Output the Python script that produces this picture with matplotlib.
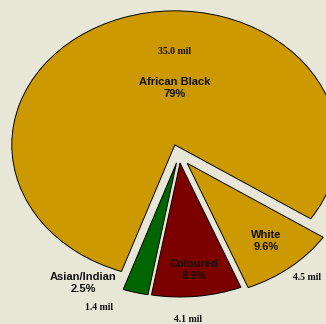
import matplotlib.pyplot as plt

groups = ["African Black", "Asian/Indian", "Coloured", "White"]
shares = [79.0, 2.5, 8.9, 9.6]
people = ["35.0 mil", "1.4 mil", "4.1 mil", "4.5 mil"]
colours = ["#CC9900", "#006600", "#7D0000", "#CC9900"]
explode = [0.08, 0.06, 0.06, 0.08]

bg = "#E8E6D6"
fig = plt.figure(figsize=(3.26, 3.24), dpi=100, facecolor=bg)
ax = fig.add_axes([0, 0, 1, 1])
ax.set_facecolor(bg)

wedges, _ = ax.pie(shares, colors=colours, explode=explode, startangle=-33.5,
                   counterclock=True,
                   wedgeprops={"edgecolor": "black", "linewidth": 0.7})

# squash the pie into an ellipse, centre sits at (179,155) px
ax.set_aspect("auto")
ax.set_xlim(-179 / 163, (326 - 179) / 163)
ax.set_ylim(-(324 - 155) / 134, 155 / 134)
ax.axis("off")

# label positions in pixels (x, y from top)
name_pos = [(175, 88), (83, 283), (194, 270), (266, 241)]
amt_pos = [(175, 52), (99, 308), (188, 320), (307, 277)]

for i in range(len(groups)):
    px, py = name_pos[i]
    fig.text(px / 326, 1 - py / 324, "{}\n{:g}%".format(groups[i], shares[i]),
             ha="center", va="center", fontsize=8, fontweight="bold",
             family="Liberation Sans", color="#111111", linespacing=1.15)
    px, py = amt_pos[i]
    fig.text(px / 326, 1 - py / 324, people[i], ha="center", va="center",
             fontsize=7, fontweight="bold", family="Liberation Serif",
             color="#111111")

fig.savefig("out.png", dpi=100, facecolor=bg)
